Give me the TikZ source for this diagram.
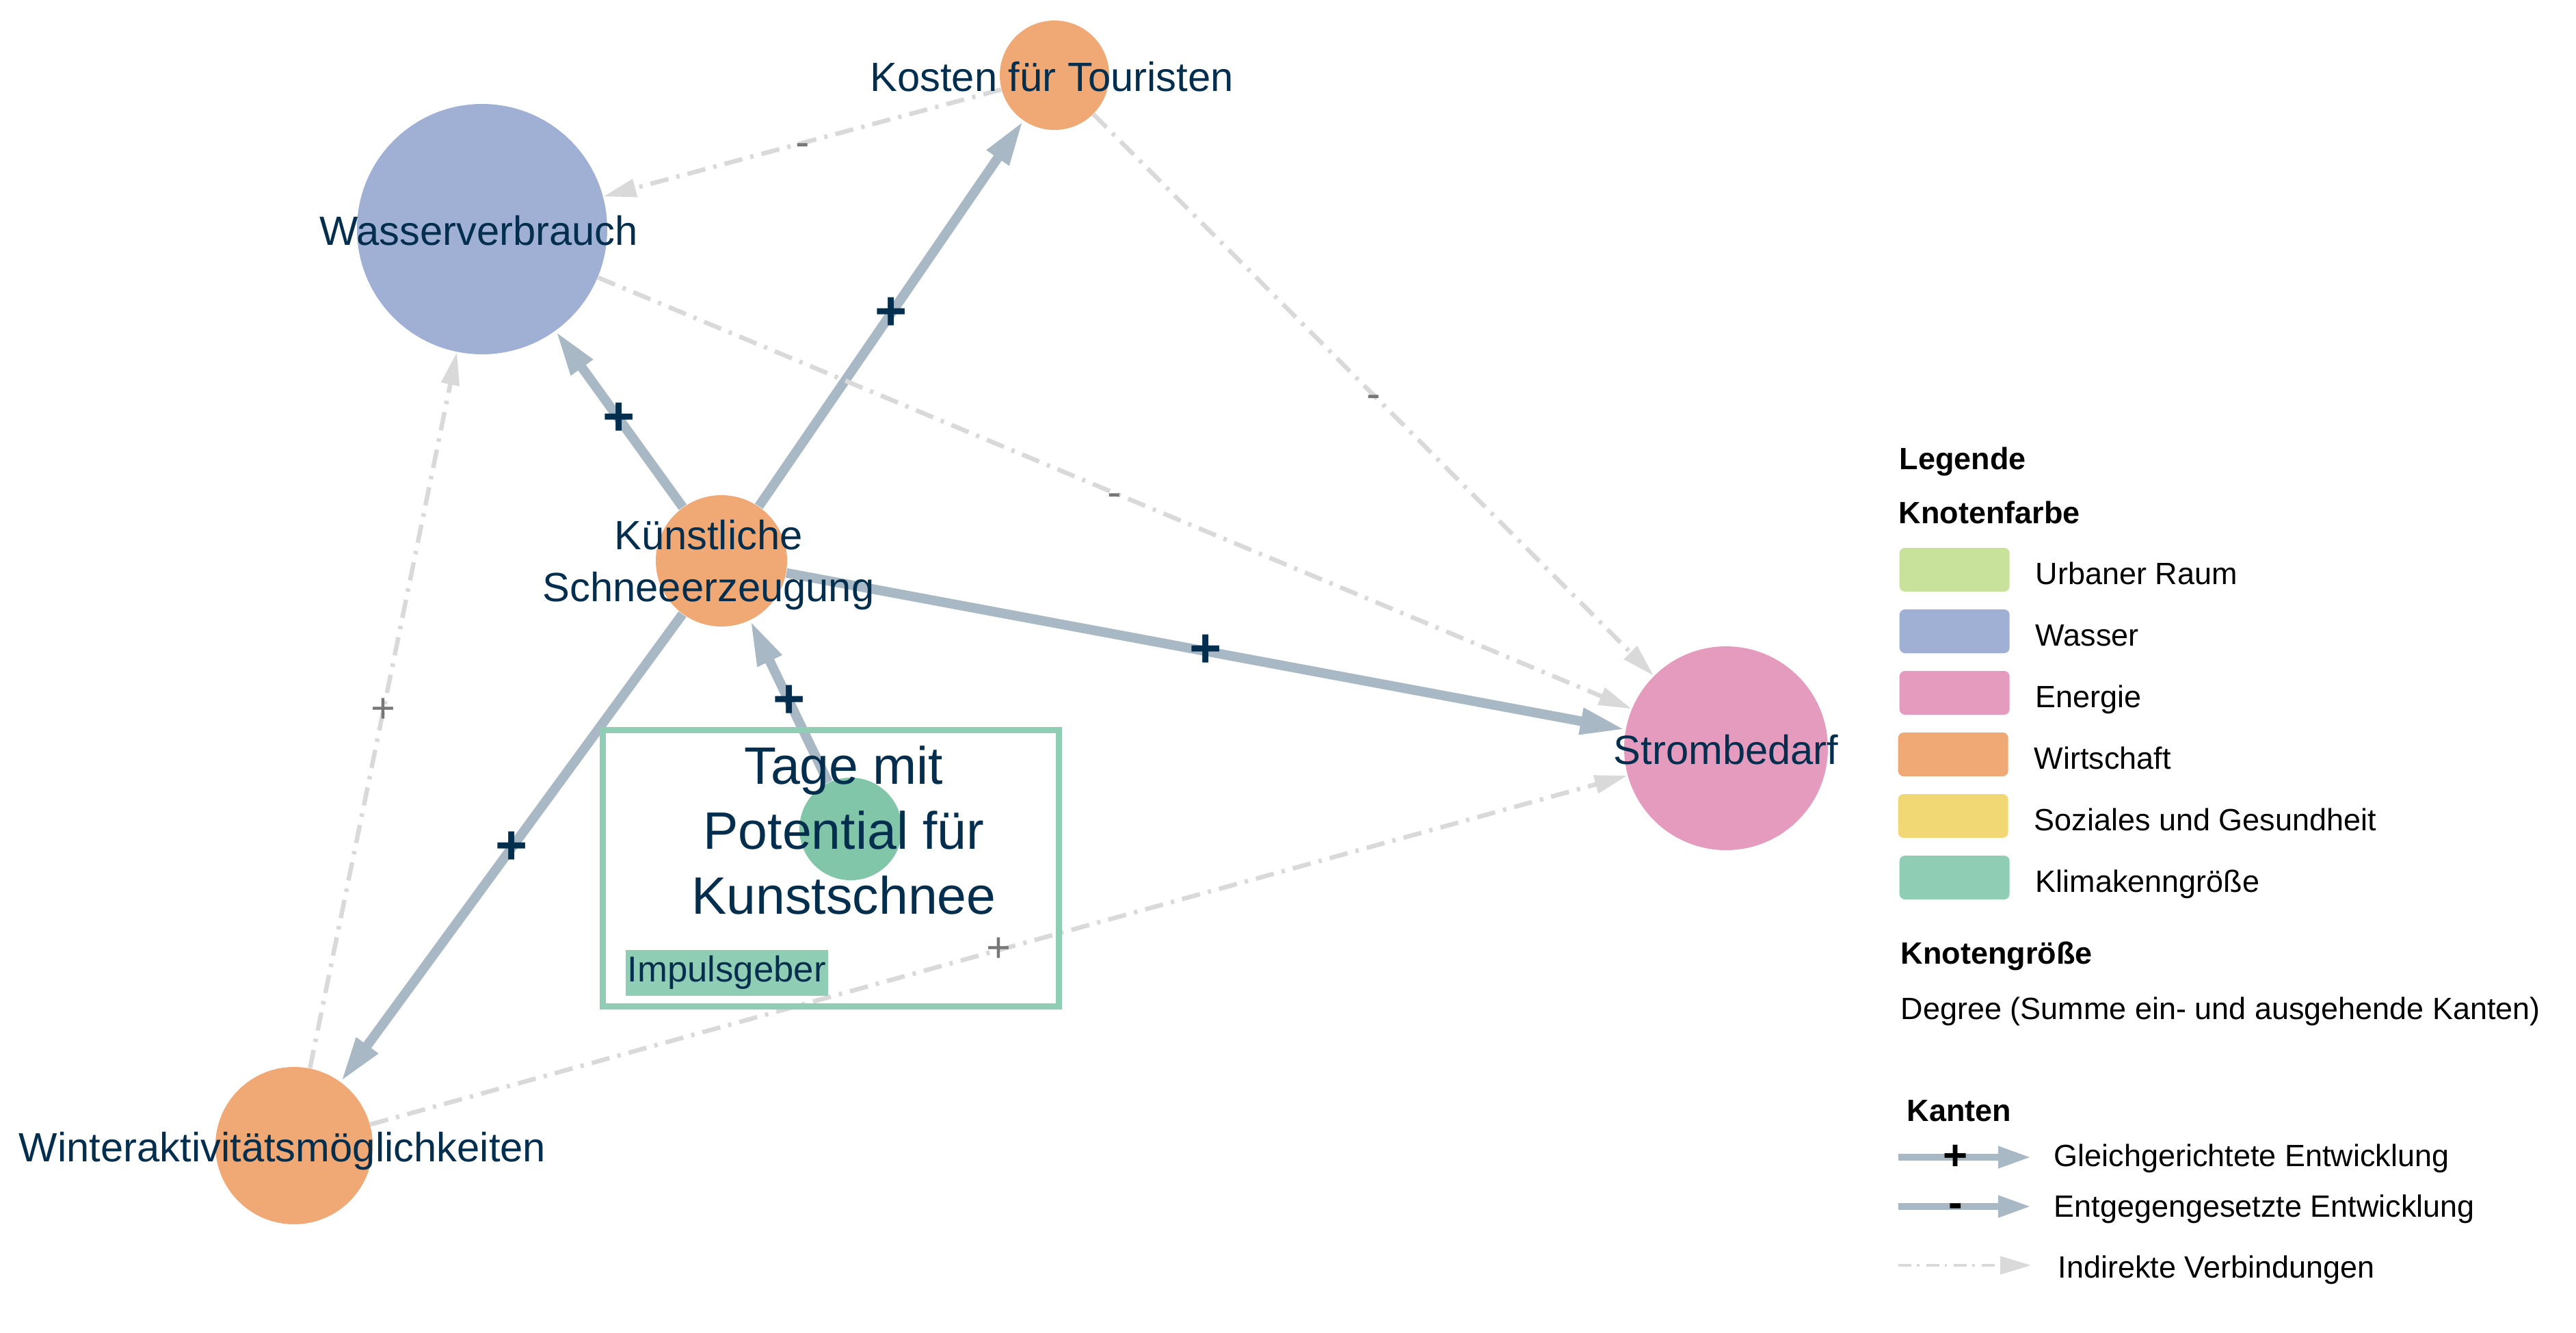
\documentclass[tikz,border=0pt]{standalone}
\usepackage{fontspec}
\setmainfont{Liberation Sans}
\usetikzlibrary{arrows.meta}

\definecolor{textblau}{RGB}{4,46,78}
\definecolor{wirtschaft}{RGB}{240,168,116}
\definecolor{wasser}{RGB}{160,176,213}
\definecolor{energie}{RGB}{229,155,190}
\definecolor{urban}{RGB}{201,226,155}
\definecolor{sozial}{RGB}{241,216,116}
\definecolor{klima}{RGB}{143,205,180}
\definecolor{klimaknoten}{RGB}{130,198,170}
\definecolor{kante}{RGB}{168,184,196}
\definecolor{indgrau}{RGB}{217,217,217}
\definecolor{labelgrau}{RGB}{119,119,119}

\begin{document}
\begin{tikzpicture}[x=1cm, y=-1cm,
	knoten/.style={circle, inner sep=0pt, minimum size=#1},
	beschr/.style={text=textblau, inner sep=0pt, align=center, font=\fontsize{17}{21.6}\selectfont},
	wirkung/.style={draw=kante, line width=1.4mm, -{Triangle[length=6.6mm, width=3.6mm]}},
	indirekt/.style={draw=indgrau, line width=0.65mm, dash pattern=on 2.7mm off 1.2mm on 0.5mm off 1.2mm, -{Triangle[length=4.8mm, width=2.6mm]}},
	vz/.style={text=textblau, inner sep=0pt, font=\bfseries\fontsize{23}{23}\selectfont},
	vzgrau/.style={text=labelgrau, inner sep=0pt, font=\fontsize{17.5}{17.5}\selectfont},
	farbfeld/.style={fill=#1, rounded corners=0.8mm, minimum width=16.1mm, minimum height=6.4mm, inner sep=0pt, anchor=west},
	legtext/.style={anchor=base west, inner sep=0pt, font=\fontsize{12.8}{15}\selectfont},
	legkopf/.style={anchor=base west, inner sep=0pt, font=\bfseries\fontsize{12.8}{15}\selectfont},
	legwirkung/.style={draw=kante, line width=1mm, -{Triangle[length=4.8mm, width=3mm]}},
	legindirekt/.style={draw=indgrau, line width=0.45mm, dash pattern=on 1.9mm off 0.8mm on 0.35mm off 1mm, -{Triangle[length=4.5mm, width=2.6mm]}},
	legvz/.style={inner sep=0pt, font=\bfseries\fontsize{17.6}{17.6}\selectfont}]
\useasboundingbox (0,0) rectangle (37.67,19.48);

	%% Knoten
	\node[knoten=1.60cm, fill=wirtschaft] (kosten) at (15.42,1.10) {};
	\node[knoten=3.66cm, fill=wasser] (wasser) at (7.05,3.35) {};
	\node[knoten=1.92cm, fill=wirtschaft] (schnee) at (10.55,8.20) {};
	\node[knoten=1.50cm, fill=klimaknoten] (tage) at (12.44,12.12) {};
	\node[knoten=2.98cm, fill=energie] (strom) at (25.24,10.94) {};
	\node[knoten=2.30cm, fill=wirtschaft] (winter) at (4.30,16.75) {};

	%% Wirkungen
	\draw[wirkung] (schnee) -- (kosten) node[midway, vz] {+};
	\draw[wirkung] (schnee) -- (wasser) node[midway, vz] {+};
	\draw[wirkung] (schnee) -- (strom) node[midway, vz] {+};
	\draw[wirkung] (schnee) -- (winter) node[midway, vz] {+};
	\draw[wirkung] (tage) -- (schnee) node[midway, vz] {+};

	%% indirekte Verbindungen
	\draw[indirekt] (kosten) -- (wasser) node[midway, vzgrau, yshift=-1mm] {-};
	\draw[indirekt] (kosten) -- (strom) node[midway, vzgrau, yshift=-1mm] {-};
	\draw[indirekt] (wasser) -- (strom) node[midway, vzgrau, yshift=-1mm] {-};
	\draw[indirekt] (winter) -- (wasser) node[midway, vzgrau] {+};
	\draw[indirekt] (winter) -- (strom) node[midway, vzgrau] {+};
	%%%%%%%%%%%%%%%%

	%% Impulsgeber
	\node[draw=klima, line width=0.9mm, minimum width=6.67cm, minimum height=4.04cm, inner sep=0pt] (tagebox) at (12.145,12.69) {};

	%% Beschriftungen
	\node[beschr, anchor=base] (kosten-txt) at (15.38,1.33) {Kosten für Touristen};
	\node[beschr, anchor=base] (wasser-txt) at (7.00,3.58) {Wasserverbrauch};
	\node[beschr] (schnee-txt) at (10.36,8.26) {Künstliche\\Schneeerzeugung};
	\node[beschr, font=\fontsize{21.9}{27}\selectfont] (tage-txt) at (12.34,12.14) {Tage mit\\Potential für\\Kunstschnee};
	\node[beschr, anchor=base] (strom-txt) at (25.24,11.17) {Strombedarf};
	\node[beschr, anchor=base] (winter-txt) at (4.13,16.98) {Winteraktivitätsmöglichkeiten};
	\node[fill=klima, text=textblau, anchor=north west, minimum height=6.7mm, inner xsep=0.3mm, inner ysep=0pt, font=\fontsize{15}{15}\selectfont] (impuls) at (9.14,13.88) {Impulsgeber};

	%% Legende
	\node[legkopf] (leg-titel) at (27.77,6.86) {Legende};
	\node[legkopf] (leg-farbe) at (27.76,7.65) {Knotenfarbe};
	\node[farbfeld=urban] (feld-urban) at (27.77,8.33) {};
	\node[legtext] (txt-urban) at (29.76,8.54) {Urbaner Raum};
	\node[farbfeld=wasser] (feld-wasser) at (27.77,9.23) {};
	\node[legtext] (txt-wasser) at (29.76,9.44) {Wasser};
	\node[farbfeld=energie] (feld-energie) at (27.77,10.13) {};
	\node[legtext] (txt-energie) at (29.76,10.34) {Energie};
	\node[farbfeld=wirtschaft] (feld-wirtschaft) at (27.75,11.03) {};
	\node[legtext] (txt-wirtschaft) at (29.74,11.24) {Wirtschaft};
	\node[farbfeld=sozial] (feld-sozial) at (27.75,11.93) {};
	\node[legtext] (txt-sozial) at (29.74,12.14) {Soziales und Gesundheit};
	\node[farbfeld=klima] (feld-klima) at (27.77,12.83) {};
	\node[legtext] (txt-klima) at (29.76,13.04) {Klimakenngröße};

	\node[legkopf] (leg-groesse) at (27.79,14.09) {Knotengröße};
	\node[legtext] (leg-degree) at (27.79,14.90) {Degree (Summe ein- und ausgehende Kanten)};

	\node[legkopf] (leg-kanten) at (27.88,16.39) {Kanten};
	\coordinate (lg-a1) at (27.76,16.92);
	\coordinate (lg-b1) at (29.70,16.92);
	\coordinate (lg-a2) at (27.76,17.64);
	\coordinate (lg-b2) at (29.70,17.64);
	\coordinate (lg-a3) at (27.76,18.50);
	\coordinate (lg-b3) at (29.70,18.50);
	\draw[legwirkung] (lg-a1) -- (lg-b1) node[pos=0.43, legvz] {+};
	\draw[legwirkung] (lg-a2) -- (lg-b2) node[pos=0.43, legvz, yshift=-0.6mm] {-};
	\draw[legindirekt] (lg-a3) -- (lg-b3);
	\node[legtext] (leg-gleich) at (30.03,17.05) {Gleichgerichtete Entwicklung};
	\node[legtext] (leg-entgegen) at (30.03,17.79) {Entgegengesetzte Entwicklung};
	\node[legtext] (leg-indirekt) at (30.09,18.68) {Indirekte Verbindungen};

%\draw (current bounding box.south west) rectangle (current bounding box.north east);
\end{tikzpicture}
\end{document}
